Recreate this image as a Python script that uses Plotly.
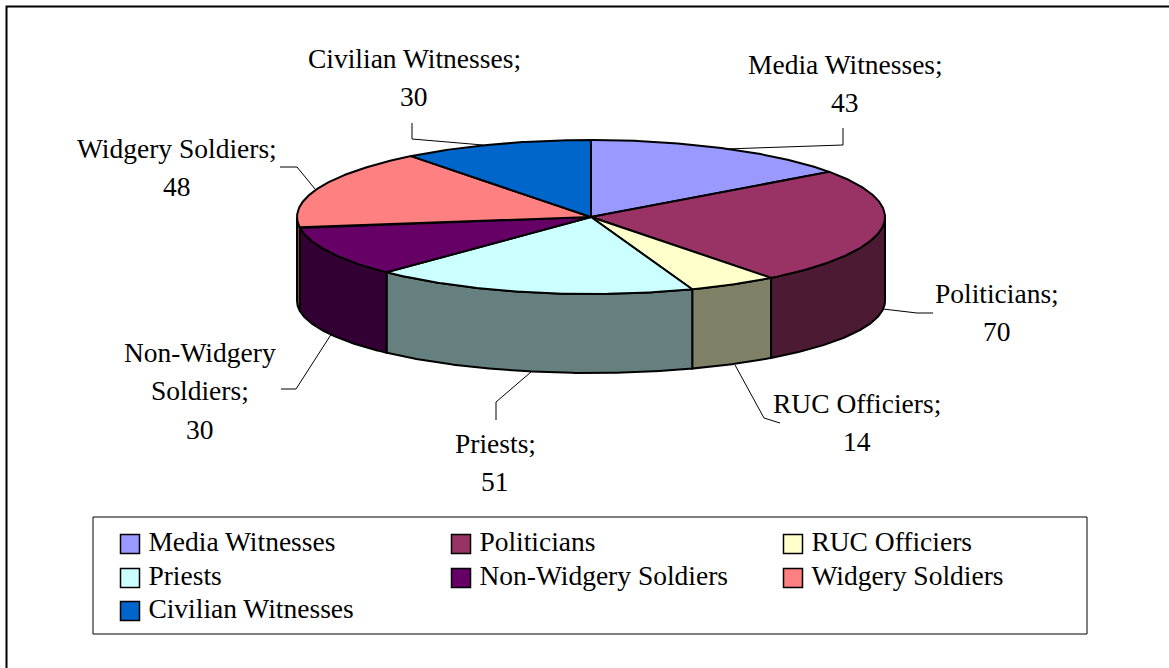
"""3D-style pie of witness groups, drawn on a pixel-sized cartesian canvas."""

import numpy as np
import plotly.graph_objects as go

names = ['Media Witnesses', 'Politicians', 'RUC Officiers', 'Priests',
         'Non-Widgery Soldiers', 'Widgery Soldiers', 'Civilian Witnesses']
values = [43, 70, 14, 51, 30, 48, 30]
top_colors = ['#9999FF', '#993366', '#FFFFCC', '#CCFFFF', '#660066', '#FF8080', '#0066CC']
wall_colors = ['#4D4D80', '#4D1A33', '#808066', '#668080', '#330033', '#804040', '#003366']

# Wrapped text of the data labels (value gets added as the last line)
label_text = [['Media Witnesses;'], ['Politicians;'], ['RUC Officiers;'], ['Priests;'],
              ['Non-Widgery', 'Soldiers;'], ['Widgery Soldiers;'], ['Civilian Witnesses;']]
label_x = [845, 997, 857, 495, 200, 177, 414]
label_y = [64, 293, 403, 443, 352, 148, 58]

# Leader lines, in canvas pixels
leaders = [
    [(725, 149), (843, 145), (843, 128)],
    [(883, 309), (917, 313), (933, 313)],
    [(735, 365), (764, 418), (780, 423)],
    [(531, 372), (496, 402), (496, 420)],
    [(332, 333), (296, 389), (281, 389)],
    [(315, 189), (297, 167), (280, 167)],
    [(483, 145), (412, 139), (412, 123)],
]

# Legend layout
legend_x = [130, 130, 130, 461, 461, 793, 793]
legend_y = [544, 611, 578, 544, 578, 544, 578]
legend_order = [0, 6, 3, 1, 4, 2, 5]

CX, CY = 591, 217
RX, RY = 294, 77
RY_BOTTOM = 72
DEPTH = 84
FONT = 'Liberation Serif'
FONT_SIZE = 27.5
LINE_STEP = 38.5


def rim(a0, a1, dy=0, ry=RY):
    """Points of the ellipse rim, angles in degrees clockwise from 12 o'clock."""
    t = np.radians(np.linspace(a0, a1, max(int(abs(a1 - a0)) * 2, 2)))
    return CX + RX * np.sin(t), CY - ry * np.cos(t) + dy


fig = go.Figure()

edges = np.concatenate([[0], np.cumsum(values)]) / sum(values) * 360

# Side walls, only the front half of the rim shows
for i, name in enumerate(names):
    a0, a1 = max(edges[i], 90), min(edges[i + 1], 270)
    if a1 <= a0:
        continue
    xt, yt = rim(a0, a1)
    xb, yb = rim(a0, a1, DEPTH, RY_BOTTOM)
    fig.add_trace(go.Scatter(
        x=np.concatenate([xt, xb[::-1], xt[:1]]),
        y=np.concatenate([yt, yb[::-1], yt[:1]]),
        mode='lines', fill='toself', fillcolor=wall_colors[i],
        line=dict(color='black', width=2),
        name=name, text=f'{name}: {values[i]}', hoverinfo='text',
    ))

# Top faces
for i, name in enumerate(names):
    xt, yt = rim(edges[i], edges[i + 1])
    fig.add_trace(go.Scatter(
        x=np.concatenate([[CX], xt, [CX]]),
        y=np.concatenate([[CY], yt, [CY]]),
        mode='lines', fill='toself', fillcolor=top_colors[i],
        line=dict(color='black', width=2),
        name=name, text=f'{name}: {values[i]}', hoverinfo='text',
    ))

# Leader lines
for pts in leaders:
    fig.add_trace(go.Scatter(
        x=[p[0] for p in pts], y=[p[1] for p in pts],
        mode='lines', line=dict(color='black', width=1), hoverinfo='skip',
    ))

# Legend entries
for slot, i in enumerate(legend_order):
    fig.add_trace(go.Scatter(
        x=[legend_x[slot]], y=[legend_y[slot]],
        mode='markers+text', text=['\u2009' + names[i]], textposition='middle right',
        textfont=dict(family=FONT, size=FONT_SIZE, color='black'),
        marker=dict(symbol='square', size=19, color=top_colors[i],
                    line=dict(color='black', width=1.5)),
        name=names[i], hoverinfo='name',
    ))

# Data labels
for i, lines in enumerate(label_text):
    for k, line in enumerate(lines + [str(values[i])]):
        fig.add_annotation(
            x=label_x[i], y=label_y[i] + k * LINE_STEP, text=line,
            showarrow=False, xanchor='center', yanchor='middle',
            font=dict(family=FONT, size=FONT_SIZE, color='black'),
        )

fig.update_layout(
    width=1169, height=668, autosize=False,
    margin=dict(l=0, r=0, t=0, b=0),
    paper_bgcolor='white', plot_bgcolor='white',
    showlegend=False,
    xaxis=dict(range=[0, 1169], visible=False, fixedrange=True),
    yaxis=dict(range=[668, 0], visible=False, fixedrange=True),
    shapes=[
        dict(type='rect', layer='below', x0=6.5, y0=6.5, x1=1180, y1=680,
             line=dict(color='black', width=2)),
        dict(type='rect', layer='below', x0=93, y0=517, x1=1087, y1=634,
             line=dict(color='black', width=1)),
    ],
)

fig.write_html("out.html", config=dict(displayModeBar=False),
               post_script="document.body.style.margin='0';")
